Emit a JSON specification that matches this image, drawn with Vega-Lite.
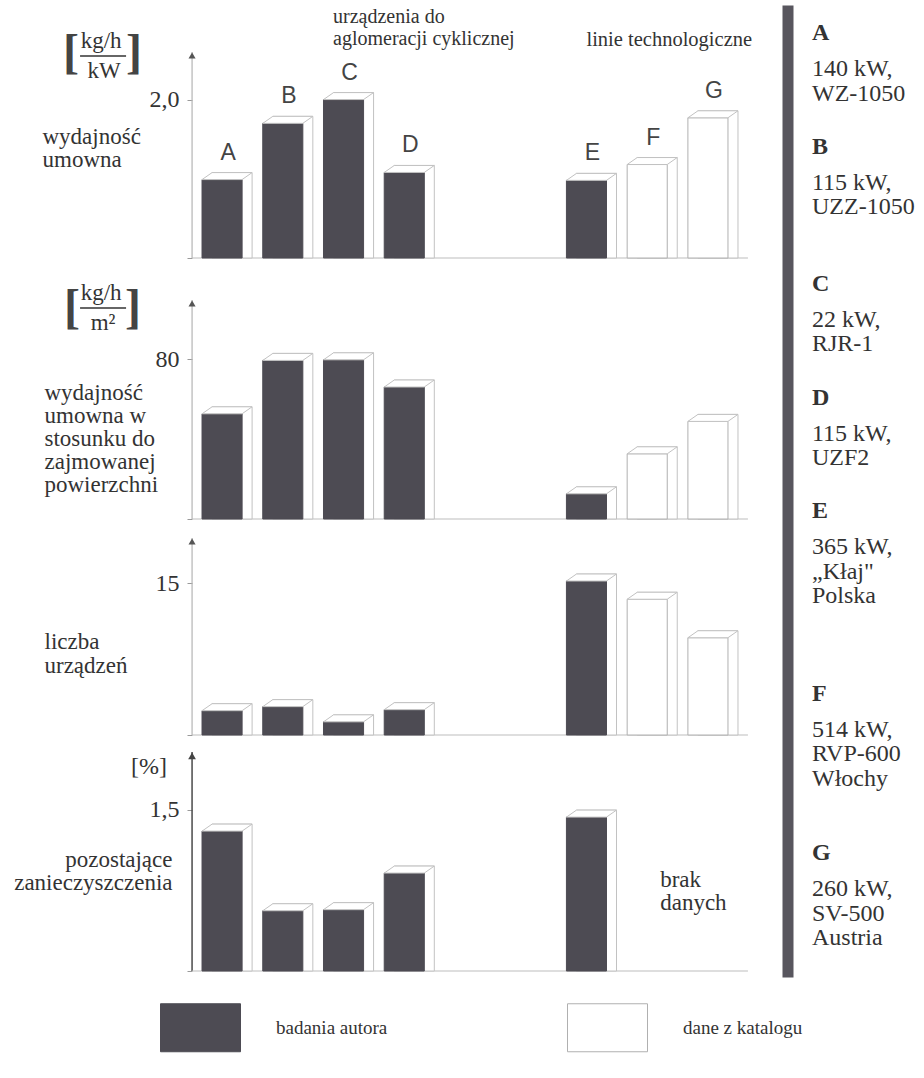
{
 "$schema": "https://vega.github.io/schema/vega-lite/v6.json",
 "background": "#ffffff",
 "autosize": {"type": "pad"},
 "padding": {"left": 13, "top": 5, "right": 5, "bottom": 5},
 "config": {
  "view": {"stroke": null},
  "axis": {"grid": false, "domain": false, "labelFont": "Liberation Serif", "labelFontSize": 24, "labelColor": "#333333", "titleFont": "Liberation Serif", "titleFontSize": 23, "titleFontWeight": "normal", "titleColor": "#333333", "tickColor": "#9a9a9a", "tickSize": 5, "labelPadding": 8}
 },
 "datasets": {
  "slupki": [
   {"panel": "P1", "item": "A", "value": 0.99, "zrodlo": "badania autora"},
   {"panel": "P1", "item": "B", "value": 1.70, "zrodlo": "badania autora"},
   {"panel": "P1", "item": "C", "value": 2.00, "zrodlo": "badania autora"},
   {"panel": "P1", "item": "D", "value": 1.08, "zrodlo": "badania autora"},
   {"panel": "P1", "item": "E", "value": 0.98, "zrodlo": "badania autora"},
   {"panel": "P1", "item": "F", "value": 1.18, "zrodlo": "dane z katalogu"},
   {"panel": "P1", "item": "G", "value": 1.77, "zrodlo": "dane z katalogu"},
   {"panel": "P2", "item": "A", "value": 52.6, "zrodlo": "badania autora"},
   {"panel": "P2", "item": "B", "value": 79.3, "zrodlo": "badania autora"},
   {"panel": "P2", "item": "C", "value": 79.6, "zrodlo": "badania autora"},
   {"panel": "P2", "item": "D", "value": 66.0, "zrodlo": "badania autora"},
   {"panel": "P2", "item": "E", "value": 12.6, "zrodlo": "badania autora"},
   {"panel": "P2", "item": "F", "value": 32.6, "zrodlo": "dane z katalogu"},
   {"panel": "P2", "item": "G", "value": 48.8, "zrodlo": "dane z katalogu"},
   {"panel": "P3", "item": "A", "value": 2.4, "zrodlo": "badania autora"},
   {"panel": "P3", "item": "B", "value": 2.8, "zrodlo": "badania autora"},
   {"panel": "P3", "item": "C", "value": 1.3, "zrodlo": "badania autora"},
   {"panel": "P3", "item": "D", "value": 2.5, "zrodlo": "badania autora"},
   {"panel": "P3", "item": "E", "value": 15.2, "zrodlo": "badania autora"},
   {"panel": "P3", "item": "F", "value": 13.4, "zrodlo": "dane z katalogu"},
   {"panel": "P3", "item": "G", "value": 9.6, "zrodlo": "dane z katalogu"},
   {"panel": "P4", "item": "A", "value": 1.30, "zrodlo": "badania autora"},
   {"panel": "P4", "item": "B", "value": 0.56, "zrodlo": "badania autora"},
   {"panel": "P4", "item": "C", "value": 0.57, "zrodlo": "badania autora"},
   {"panel": "P4", "item": "D", "value": 0.91, "zrodlo": "badania autora"},
   {"panel": "P4", "item": "E", "value": 1.43, "zrodlo": "badania autora"}
  ],
  "opisy": [
   {"item": "A", "opis": "140 kW,\nWZ-1050"},
   {"item": "B", "opis": "115 kW,\nUZZ-1050"},
   {"item": "C", "opis": "22 kW,\nRJR-1"},
   {"item": "D", "opis": "115 kW,\nUZF2"},
   {"item": "E", "opis": "365 kW,\n„Kłaj\"\nPolska"},
   {"item": "F", "opis": "514 kW,\nRVP-600\nWłochy"},
   {"item": "G", "opis": "260 kW,\nSV-500\nAustria"}
  ]
 },
 "hconcat": [
  {
   "bounds": "flush",
   "spacing": 0,
   "vconcat": [
    {
     "width": 546, "height": 253,
     "layer": [
      {"data": {"values": [{}]}, "mark": {"type": "rule", "color": "#b4b4b4", "strokeWidth": 1.2, "xOffset": -30}, "encoding": {"x": {"datum": "A", "type": "nominal", "axis": null}, "y": {"datum": 0, "type": "quantitative"}, "y2": {"datum": 2.6}}},
      {"data": {"values": [{}]}, "mark": {"type": "point", "shape": "triangle-up", "size": 50, "filled": true, "color": "#555555", "opacity": 1, "xOffset": -30, "yOffset": 3.5}, "encoding": {"x": {"datum": "A", "type": "nominal", "axis": null}, "y": {"datum": 2.6, "type": "quantitative"}}},
      {"data": {"values": [{}]}, "mark": {"type": "rule", "color": "#bdbdbd", "strokeWidth": 1.2, "xOffset": -30, "x2Offset": 40}, "encoding": {"x": {"datum": "A", "type": "nominal", "axis": null}, "x2": {"datum": "G"}, "y": {"datum": 0, "type": "quantitative"}}},
      {"data": {"name": "slupki"}, "transform": [{"filter": "datum.panel === 'P1'"}], "mark": {"type": "bar", "fill": "#ffffff", "stroke": "#c2c2c2", "strokeWidth": 1, "xOffset": 10, "yOffset": -7},
       "encoding": {"x": {"field": "item", "type": "nominal", "scale": {"type": "band", "domain": ["A", "B", "C", "D", "·1", "·2", "E", "F", "G"], "paddingInner": 0.34, "paddingOuter": 0.165}, "axis": null}, "y": {"field": "value", "type": "quantitative", "stack": null, "scale": {"domain": [0, 3.194], "nice": false}}}},
      {"data": {"name": "slupki"}, "transform": [{"filter": "datum.panel === 'P1'"}], "mark": {"type": "bar", "strokeWidth": 1},
       "encoding": {
        "x": {"field": "item", "type": "nominal", "scale": {"type": "band", "domain": ["A", "B", "C", "D", "·1", "·2", "E", "F", "G"], "paddingInner": 0.34, "paddingOuter": 0.165}, "axis": null},
        "y": {"field": "value", "type": "quantitative", "stack": null, "scale": {"domain": [0, 3.194], "nice": false},
         "axis": {"values": [0, 2], "format": ".1f", "labelExpr": "datum.value == 0 ? '' : replace(datum.label, '.', ',')", "domain": false, "title": ["wydajność", "umowna"], "titleAngle": 0, "titleAlign": "left", "titleBaseline": "top", "titleX": -150, "titleY": 120, "titleLineHeight": 23}},
        "fill": {"field": "zrodlo", "type": "nominal", "scale": {"domain": ["badania autora", "dane z katalogu"], "range": ["#4d4b53", "#ffffff"]}, "legend": {"title": null, "orient": "none", "legendX": -32, "legendY": 982, "direction": "horizontal", "symbolType": "M-1,-0.6H1V0.6H-1Z", "symbolSize": 6400, "symbolStrokeWidth": 1, "labelFont": "Liberation Serif", "labelFontSize": 19, "labelColor": "#333333", "labelOffset": 35, "columnPadding": 177, "padding": 0}},
        "stroke": {"field": "zrodlo", "type": "nominal", "scale": {"domain": ["badania autora", "dane z katalogu"], "range": ["#4d4b53", "#b0b0b0"]}, "legend": {"title": null, "orient": "none", "legendX": -32, "legendY": 982, "direction": "horizontal", "symbolType": "M-1,-0.6H1V0.6H-1Z", "symbolSize": 6400, "symbolStrokeWidth": 1, "labelFont": "Liberation Serif", "labelFontSize": 19, "labelColor": "#333333", "labelOffset": 35, "columnPadding": 177, "padding": 0}}
       }},
      {"data": {"name": "slupki"}, "transform": [{"filter": "datum.panel === 'P1'"}], "mark": {"type": "point", "shape": "M-0.667,0L0.667,0L1,-0.233L-0.333,-0.233Z", "size": 3600, "filled": true, "fill": "#ffffff", "stroke": "#c2c2c2", "strokeWidth": 1, "opacity": 1},
       "encoding": {"x": {"field": "item", "type": "nominal", "scale": {"type": "band", "domain": ["A", "B", "C", "D", "·1", "·2", "E", "F", "G"], "paddingInner": 0.34, "paddingOuter": 0.165}, "axis": null}, "y": {"field": "value", "type": "quantitative", "stack": null, "scale": {"domain": [0, 3.194], "nice": false}}}},
      {"data": {"name": "slupki"}, "transform": [{"filter": "datum.panel === 'P1'"}], "mark": {"type": "text", "font": "Liberation Sans", "fontSize": 23, "color": "#444444", "dx": 6, "dy": -27, "baseline": "middle"},
       "encoding": {"x": {"field": "item", "type": "nominal", "scale": {"type": "band", "domain": ["A", "B", "C", "D", "·1", "·2", "E", "F", "G"], "paddingInner": 0.34, "paddingOuter": 0.165}, "axis": null}, "y": {"field": "value", "type": "quantitative", "stack": null, "scale": {"domain": [0, 3.194], "nice": false}}, "text": {"field": "item"}}},
      {"data": {"values": [{"tekst": "urządzenia do\naglomeracji cyklicznej"}]}, "mark": {"type": "text", "lineBreak": "\n", "lineHeight": 22, "align": "left", "baseline": "top", "font": "Liberation Serif", "fontSize": 20, "color": "#333333", "dx": -10.5}, "encoding": {"x": {"datum": "C", "type": "nominal", "axis": null}, "y": {"datum": 3.165, "type": "quantitative"}, "text": {"field": "tekst"}}},
      {"data": {"values": [{"tekst": "linie technologiczne"}]}, "mark": {"type": "text", "align": "left", "baseline": "middle", "font": "Liberation Serif", "fontSize": 20.5, "color": "#333333"}, "encoding": {"x": {"datum": "E", "type": "nominal", "axis": null}, "y": {"datum": 2.75, "type": "quantitative"}, "text": {"field": "tekst"}}},
      {"data": {"values": [{"tekst": "["}]}, "mark": {"type": "text", "align": "center", "baseline": "middle", "font": "Liberation Serif", "fontSize": 48, "fontWeight": "bold", "color": "#444444", "dx": -151}, "encoding": {"x": {"datum": "A", "type": "nominal", "axis": null}, "y": {"datum": 2.576, "type": "quantitative"}, "text": {"field": "tekst"}}},
      {"data": {"values": [{"tekst": "]"}]}, "mark": {"type": "text", "align": "center", "baseline": "middle", "font": "Liberation Serif", "fontSize": 48, "fontWeight": "bold", "color": "#444444", "dx": -88}, "encoding": {"x": {"datum": "A", "type": "nominal", "axis": null}, "y": {"datum": 2.576, "type": "quantitative"}, "text": {"field": "tekst"}}},
      {"data": {"values": [{"tekst": "kg/h"}]}, "mark": {"type": "text", "align": "center", "baseline": "middle", "font": "Liberation Serif", "fontSize": 23, "color": "#333333", "dx": -121}, "encoding": {"x": {"datum": "A", "type": "nominal", "axis": null}, "y": {"datum": 2.74, "type": "quantitative"}, "text": {"field": "tekst"}}},
      {"data": {"values": [{}]}, "mark": {"type": "rule", "color": "#333333", "strokeWidth": 1.3, "xOffset": -142, "x2Offset": -96}, "encoding": {"x": {"datum": "A", "type": "nominal", "axis": null}, "x2": {"datum": "A"}, "y": {"datum": 2.55, "type": "quantitative"}}},
      {"data": {"values": [{"tekst": "kW"}]}, "mark": {"type": "text", "align": "center", "baseline": "middle", "font": "Liberation Serif", "fontSize": 23, "color": "#333333", "dx": -118}, "encoding": {"x": {"datum": "A", "type": "nominal", "axis": null}, "y": {"datum": 2.36, "type": "quantitative"}, "text": {"field": "tekst"}}}
     ]
    },
    {
     "width": 546, "height": 261,
     "layer": [
      {"data": {"values": [{}]}, "mark": {"type": "rule", "color": "#b4b4b4", "strokeWidth": 1.2, "xOffset": -30}, "encoding": {"x": {"datum": "A", "type": "nominal", "axis": null}, "y": {"datum": 0, "type": "quantitative"}, "y2": {"datum": 109.5}}},
      {"data": {"values": [{}]}, "mark": {"type": "point", "shape": "triangle-up", "size": 50, "filled": true, "color": "#555555", "opacity": 1, "xOffset": -30, "yOffset": 3.5}, "encoding": {"x": {"datum": "A", "type": "nominal", "axis": null}, "y": {"datum": 109.5, "type": "quantitative"}}},
      {"data": {"values": [{}]}, "mark": {"type": "rule", "color": "#bdbdbd", "strokeWidth": 1.2, "xOffset": -30, "x2Offset": 40}, "encoding": {"x": {"datum": "A", "type": "nominal", "axis": null}, "x2": {"datum": "G"}, "y": {"datum": 0, "type": "quantitative"}}},
      {"data": {"name": "slupki"}, "transform": [{"filter": "datum.panel === 'P2'"}], "mark": {"type": "bar", "fill": "#ffffff", "stroke": "#c2c2c2", "strokeWidth": 1, "xOffset": 10, "yOffset": -7},
       "encoding": {"x": {"field": "item", "type": "nominal", "scale": {"type": "band", "domain": ["A", "B", "C", "D", "·1", "·2", "E", "F", "G"], "paddingInner": 0.34, "paddingOuter": 0.165}, "axis": null}, "y": {"field": "value", "type": "quantitative", "stack": null, "scale": {"domain": [0, 130.5], "nice": false}}}},
      {"data": {"name": "slupki"}, "transform": [{"filter": "datum.panel === 'P2'"}], "mark": {"type": "bar", "strokeWidth": 1},
       "encoding": {
        "x": {"field": "item", "type": "nominal", "scale": {"type": "band", "domain": ["A", "B", "C", "D", "·1", "·2", "E", "F", "G"], "paddingInner": 0.34, "paddingOuter": 0.165}, "axis": null},
        "y": {"field": "value", "type": "quantitative", "stack": null, "scale": {"domain": [0, 130.5], "nice": false},
         "axis": {"values": [0, 80], "format": "d", "labelExpr": "datum.value == 0 ? '' : datum.label", "domain": false, "title": ["wydajność", "umowna w", "stosunku do", "zajmowanej", "powierzchni"], "titleAngle": 0, "titleAlign": "left", "titleBaseline": "top", "titleX": -148, "titleY": 123, "titleLineHeight": 23}},
        "fill": {"field": "zrodlo", "type": "nominal", "scale": {"domain": ["badania autora", "dane z katalogu"], "range": ["#4d4b53", "#ffffff"]}, "legend": {"title": null, "orient": "none", "legendX": -32, "legendY": 982, "direction": "horizontal", "symbolType": "M-1,-0.6H1V0.6H-1Z", "symbolSize": 6400, "symbolStrokeWidth": 1, "labelFont": "Liberation Serif", "labelFontSize": 19, "labelColor": "#333333", "labelOffset": 35, "columnPadding": 177, "padding": 0}},
        "stroke": {"field": "zrodlo", "type": "nominal", "scale": {"domain": ["badania autora", "dane z katalogu"], "range": ["#4d4b53", "#b0b0b0"]}, "legend": {"title": null, "orient": "none", "legendX": -32, "legendY": 982, "direction": "horizontal", "symbolType": "M-1,-0.6H1V0.6H-1Z", "symbolSize": 6400, "symbolStrokeWidth": 1, "labelFont": "Liberation Serif", "labelFontSize": 19, "labelColor": "#333333", "labelOffset": 35, "columnPadding": 177, "padding": 0}}
       }},
      {"data": {"name": "slupki"}, "transform": [{"filter": "datum.panel === 'P2'"}], "mark": {"type": "point", "shape": "M-0.667,0L0.667,0L1,-0.233L-0.333,-0.233Z", "size": 3600, "filled": true, "fill": "#ffffff", "stroke": "#c2c2c2", "strokeWidth": 1, "opacity": 1},
       "encoding": {"x": {"field": "item", "type": "nominal", "scale": {"type": "band", "domain": ["A", "B", "C", "D", "·1", "·2", "E", "F", "G"], "paddingInner": 0.34, "paddingOuter": 0.165}, "axis": null}, "y": {"field": "value", "type": "quantitative", "stack": null, "scale": {"domain": [0, 130.5], "nice": false}}}},
      {"data": {"values": [{"tekst": "["}]}, "mark": {"type": "text", "align": "center", "baseline": "middle", "font": "Liberation Serif", "fontSize": 48, "fontWeight": "bold", "color": "#444444", "dx": -150}, "encoding": {"x": {"datum": "A", "type": "nominal", "axis": null}, "y": {"datum": 105, "type": "quantitative"}, "text": {"field": "tekst"}}},
      {"data": {"values": [{"tekst": "]"}]}, "mark": {"type": "text", "align": "center", "baseline": "middle", "font": "Liberation Serif", "fontSize": 48, "fontWeight": "bold", "color": "#444444", "dx": -89}, "encoding": {"x": {"datum": "A", "type": "nominal", "axis": null}, "y": {"datum": 105, "type": "quantitative"}, "text": {"field": "tekst"}}},
      {"data": {"values": [{"tekst": "kg/h"}]}, "mark": {"type": "text", "align": "center", "baseline": "middle", "font": "Liberation Serif", "fontSize": 23, "color": "#333333", "dx": -121}, "encoding": {"x": {"datum": "A", "type": "nominal", "axis": null}, "y": {"datum": 113, "type": "quantitative"}, "text": {"field": "tekst"}}},
      {"data": {"values": [{}]}, "mark": {"type": "rule", "color": "#333333", "strokeWidth": 1.3, "xOffset": -142, "x2Offset": -96}, "encoding": {"x": {"datum": "A", "type": "nominal", "axis": null}, "x2": {"datum": "A"}, "y": {"datum": 105.5, "type": "quantitative"}}},
      {"data": {"values": [{"tekst": "m²"}]}, "mark": {"type": "text", "align": "center", "baseline": "middle", "font": "Liberation Serif", "fontSize": 23, "color": "#333333", "dx": -119}, "encoding": {"x": {"datum": "A", "type": "nominal", "axis": null}, "y": {"datum": 98, "type": "quantitative"}, "text": {"field": "tekst"}}}
     ]
    },
    {
     "width": 546, "height": 216,
     "layer": [
      {"data": {"values": [{}]}, "mark": {"type": "rule", "color": "#b4b4b4", "strokeWidth": 1.2, "xOffset": -30}, "encoding": {"x": {"datum": "A", "type": "nominal", "axis": null}, "y": {"datum": 0, "type": "quantitative"}, "y2": {"datum": 19.45}}},
      {"data": {"values": [{}]}, "mark": {"type": "point", "shape": "triangle-up", "size": 50, "filled": true, "color": "#555555", "opacity": 1, "xOffset": -30, "yOffset": 3.5}, "encoding": {"x": {"datum": "A", "type": "nominal", "axis": null}, "y": {"datum": 19.45, "type": "quantitative"}}},
      {"data": {"values": [{}]}, "mark": {"type": "rule", "color": "#bdbdbd", "strokeWidth": 1.2, "xOffset": -30, "x2Offset": 40}, "encoding": {"x": {"datum": "A", "type": "nominal", "axis": null}, "x2": {"datum": "G"}, "y": {"datum": 0, "type": "quantitative"}}},
      {"data": {"name": "slupki"}, "transform": [{"filter": "datum.panel === 'P3'"}], "mark": {"type": "bar", "fill": "#ffffff", "stroke": "#c2c2c2", "strokeWidth": 1, "xOffset": 10, "yOffset": -7},
       "encoding": {"x": {"field": "item", "type": "nominal", "scale": {"type": "band", "domain": ["A", "B", "C", "D", "·1", "·2", "E", "F", "G"], "paddingInner": 0.34, "paddingOuter": 0.165}, "axis": null}, "y": {"field": "value", "type": "quantitative", "stack": null, "scale": {"domain": [0, 21.32], "nice": false}}}},
      {"data": {"name": "slupki"}, "transform": [{"filter": "datum.panel === 'P3'"}], "mark": {"type": "bar", "strokeWidth": 1},
       "encoding": {
        "x": {"field": "item", "type": "nominal", "scale": {"type": "band", "domain": ["A", "B", "C", "D", "·1", "·2", "E", "F", "G"], "paddingInner": 0.34, "paddingOuter": 0.165}, "axis": null},
        "y": {"field": "value", "type": "quantitative", "stack": null, "scale": {"domain": [0, 21.32], "nice": false},
         "axis": {"values": [0, 15], "format": "d", "labelExpr": "datum.value == 0 ? '' : datum.label", "domain": false, "title": ["liczba", "urządzeń"], "titleAngle": 0, "titleAlign": "left", "titleBaseline": "top", "titleX": -148, "titleY": 111, "titleLineHeight": 24}},
        "fill": {"field": "zrodlo", "type": "nominal", "scale": {"domain": ["badania autora", "dane z katalogu"], "range": ["#4d4b53", "#ffffff"]}, "legend": {"title": null, "orient": "none", "legendX": -32, "legendY": 982, "direction": "horizontal", "symbolType": "M-1,-0.6H1V0.6H-1Z", "symbolSize": 6400, "symbolStrokeWidth": 1, "labelFont": "Liberation Serif", "labelFontSize": 19, "labelColor": "#333333", "labelOffset": 35, "columnPadding": 177, "padding": 0}},
        "stroke": {"field": "zrodlo", "type": "nominal", "scale": {"domain": ["badania autora", "dane z katalogu"], "range": ["#4d4b53", "#b0b0b0"]}, "legend": {"title": null, "orient": "none", "legendX": -32, "legendY": 982, "direction": "horizontal", "symbolType": "M-1,-0.6H1V0.6H-1Z", "symbolSize": 6400, "symbolStrokeWidth": 1, "labelFont": "Liberation Serif", "labelFontSize": 19, "labelColor": "#333333", "labelOffset": 35, "columnPadding": 177, "padding": 0}}
       }},
      {"data": {"name": "slupki"}, "transform": [{"filter": "datum.panel === 'P3'"}], "mark": {"type": "point", "shape": "M-0.667,0L0.667,0L1,-0.233L-0.333,-0.233Z", "size": 3600, "filled": true, "fill": "#ffffff", "stroke": "#c2c2c2", "strokeWidth": 1, "opacity": 1},
       "encoding": {"x": {"field": "item", "type": "nominal", "scale": {"type": "band", "domain": ["A", "B", "C", "D", "·1", "·2", "E", "F", "G"], "paddingInner": 0.34, "paddingOuter": 0.165}, "axis": null}, "y": {"field": "value", "type": "quantitative", "stack": null, "scale": {"domain": [0, 21.32], "nice": false}}}}
     ]
    },
    {
     "width": 546, "height": 236,
     "layer": [
      {"data": {"values": [{}]}, "mark": {"type": "rule", "color": "#4a4a4a", "strokeWidth": 1.5, "xOffset": -30}, "encoding": {"x": {"datum": "A", "type": "nominal", "axis": null}, "y": {"datum": 0, "type": "quantitative"}, "y2": {"datum": 2.035}}},
      {"data": {"values": [{}]}, "mark": {"type": "point", "shape": "triangle-up", "size": 60, "filled": true, "color": "#444444", "opacity": 1, "xOffset": -30, "yOffset": 3.8}, "encoding": {"x": {"datum": "A", "type": "nominal", "axis": null}, "y": {"datum": 2.035, "type": "quantitative"}}},
      {"data": {"values": [{}]}, "mark": {"type": "rule", "color": "#bdbdbd", "strokeWidth": 1.2, "xOffset": -30, "x2Offset": 40}, "encoding": {"x": {"datum": "A", "type": "nominal", "axis": null}, "x2": {"datum": "G"}, "y": {"datum": 0, "type": "quantitative"}}},
      {"data": {"name": "slupki"}, "transform": [{"filter": "datum.panel === 'P4'"}], "mark": {"type": "bar", "fill": "#ffffff", "stroke": "#c2c2c2", "strokeWidth": 1, "xOffset": 10, "yOffset": -7},
       "encoding": {"x": {"field": "item", "type": "nominal", "scale": {"type": "band", "domain": ["A", "B", "C", "D", "·1", "·2", "E", "F", "G"], "paddingInner": 0.34, "paddingOuter": 0.165}, "axis": null}, "y": {"field": "value", "type": "quantitative", "stack": null, "scale": {"domain": [0, 2.193], "nice": false}}}},
      {"data": {"name": "slupki"}, "transform": [{"filter": "datum.panel === 'P4'"}], "mark": {"type": "bar", "strokeWidth": 1},
       "encoding": {
        "x": {"field": "item", "type": "nominal", "scale": {"type": "band", "domain": ["A", "B", "C", "D", "·1", "·2", "E", "F", "G"], "paddingInner": 0.34, "paddingOuter": 0.165}, "axis": null},
        "y": {"field": "value", "type": "quantitative", "stack": null, "scale": {"domain": [0, 2.193], "nice": false},
         "axis": {"values": [0, 1.5], "format": ".1f", "labelExpr": "datum.value == 0 ? '' : replace(datum.label, '.', ',')", "domain": false, "title": ["pozostające", "zanieczyszczenia"], "titleAngle": 0, "titleAlign": "right", "titleBaseline": "top", "titleX": -20, "titleY": 113, "titleLineHeight": 23}},
        "fill": {"field": "zrodlo", "type": "nominal", "scale": {"domain": ["badania autora", "dane z katalogu"], "range": ["#4d4b53", "#ffffff"]}, "legend": {"title": null, "orient": "none", "legendX": -32, "legendY": 982, "direction": "horizontal", "symbolType": "M-1,-0.6H1V0.6H-1Z", "symbolSize": 6400, "symbolStrokeWidth": 1, "labelFont": "Liberation Serif", "labelFontSize": 19, "labelColor": "#333333", "labelOffset": 35, "columnPadding": 177, "padding": 0}},
        "stroke": {"field": "zrodlo", "type": "nominal", "scale": {"domain": ["badania autora", "dane z katalogu"], "range": ["#4d4b53", "#b0b0b0"]}, "legend": {"title": null, "orient": "none", "legendX": -32, "legendY": 982, "direction": "horizontal", "symbolType": "M-1,-0.6H1V0.6H-1Z", "symbolSize": 6400, "symbolStrokeWidth": 1, "labelFont": "Liberation Serif", "labelFontSize": 19, "labelColor": "#333333", "labelOffset": 35, "columnPadding": 177, "padding": 0}}
       }},
      {"data": {"name": "slupki"}, "transform": [{"filter": "datum.panel === 'P4'"}], "mark": {"type": "point", "shape": "M-0.667,0L0.667,0L1,-0.233L-0.333,-0.233Z", "size": 3600, "filled": true, "fill": "#ffffff", "stroke": "#c2c2c2", "strokeWidth": 1, "opacity": 1},
       "encoding": {"x": {"field": "item", "type": "nominal", "scale": {"type": "band", "domain": ["A", "B", "C", "D", "·1", "·2", "E", "F", "G"], "paddingInner": 0.34, "paddingOuter": 0.165}, "axis": null}, "y": {"field": "value", "type": "quantitative", "stack": null, "scale": {"domain": [0, 2.193], "nice": false}}}},
      {"data": {"values": [{"tekst": "[%]"}]}, "mark": {"type": "text", "align": "right", "baseline": "middle", "font": "Liberation Serif", "fontSize": 24, "color": "#333333", "dx": -55}, "encoding": {"x": {"datum": "A", "type": "nominal", "axis": null}, "y": {"datum": 1.896, "type": "quantitative"}, "text": {"field": "tekst"}}},
      {"data": {"values": [{"tekst": "brak\ndanych"}]}, "mark": {"type": "text", "lineBreak": "\n", "lineHeight": 23.5, "align": "left", "baseline": "top", "font": "Liberation Serif", "fontSize": 23, "color": "#333333", "dx": 13}, "encoding": {"x": {"datum": "F", "type": "nominal", "axis": null}, "y": {"datum": 0.952, "type": "quantitative"}, "text": {"field": "tekst"}}}
     ]
    }
   ]
  },
  {
   "width": 49, "height": 972,
   "data": {"name": "opisy"},
   "encoding": {
    "y": {"field": "item", "type": "ordinal", "scale": {"type": "point", "domain": ["t0", "A", "s1", "s2", "s3", "s4", "B", "s6", "s7", "s8", "s9", "s10", "C", "s12", "s13", "s14", "s15", "D", "s17", "s18", "s19", "s20", "E", "s22", "s23", "s24", "s25", "s26", "s27", "s28", "F", "s30", "s31", "s32", "s33", "s34", "s35", "G", "b1", "b2", "b3", "b4"], "padding": 0.835, "align": 0.138},
     "axis": {"orient": "left", "domain": true, "domainColor": "#58565e", "domainWidth": 11, "domainCap": "butt", "ticks": false, "labels": false, "title": null, "grid": false}}
   },
   "layer": [
    {"mark": {"type": "text", "align": "left", "baseline": "middle", "font": "Liberation Serif", "fontSize": 24, "fontWeight": "bold", "color": "#333333"}, "encoding": {"text": {"field": "item"}}},
    {"mark": {"type": "text", "align": "left", "baseline": "top", "font": "Liberation Serif", "fontSize": 24, "color": "#333333", "dy": 24, "lineBreak": "\n", "lineHeight": 24.5}, "encoding": {"text": {"field": "opis"}}}
   ]
  }
 ],
 "spacing": 595.5,
 "bounds": "flush"
}
